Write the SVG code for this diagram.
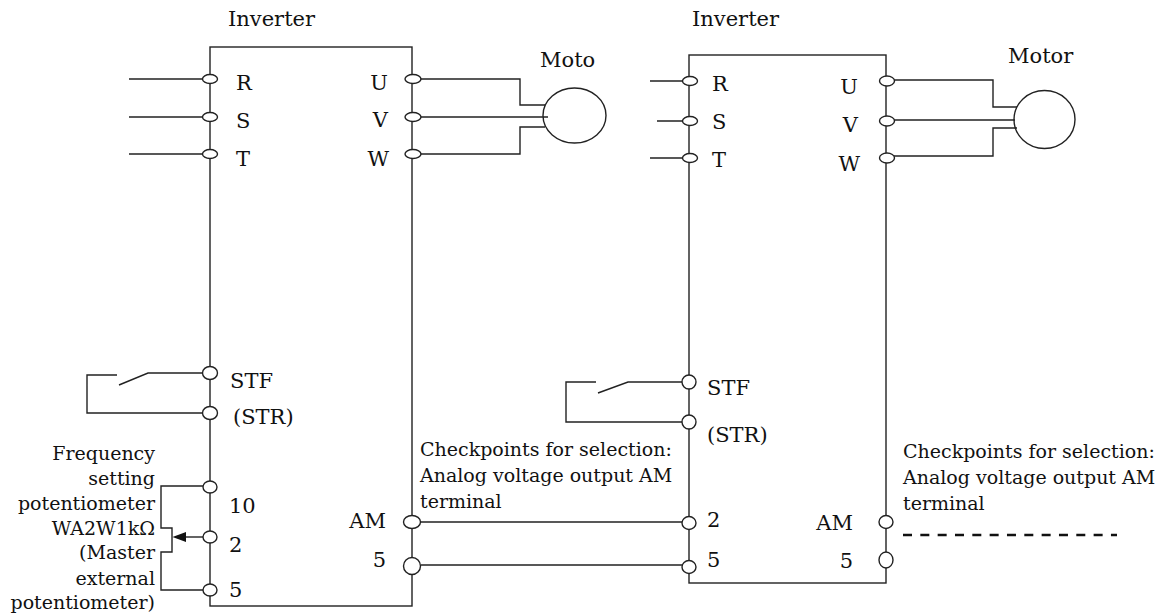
<svg xmlns="http://www.w3.org/2000/svg" width="1165" height="616" viewBox="0 0 1165 616">
<style>
.ln{fill:none;stroke:#222;stroke-width:1.4}
.tm{fill:#fff;stroke:#222;stroke-width:1.4}
.lb{font-family:"DejaVu Serif","Liberation Serif",serif;font-size:21px;fill:#111}
.an{font-family:"DejaVu Serif","Liberation Serif",serif;font-size:19px;fill:#111}
.e{text-anchor:end}
</style>
<rect width="1165" height="616" fill="#fff"/>
<g id="connectors">
<path class="ln" d="M129,79H203M129,117H203M129,154H203"/>
<path class="ln" d="M650,81H683M657,121H683M650,158H683"/>
<path class="ln" d="M420,79H520V105H545M420,117H548M420,154H520V127H545"/>
<path class="ln" d="M894,80H993V107H1017M894,120H1015M894,156H993V128H1017"/>
<path class="ln" d="M421,522H682M421,565H682"/>
<path d="M903,535H1117" fill="none" stroke="#111" stroke-width="2.6" stroke-dasharray="9 8.33"/>
</g>
<g id="inverter1">
<text class="lb" x="228" y="26">Inverter</text>
<rect class="ln" x="210" y="47" width="202" height="559"/>
<ellipse class="tm" cx="210" cy="79" rx="7.5" ry="4.5"/>
<ellipse class="tm" cx="210" cy="117" rx="7.5" ry="4.5"/>
<ellipse class="tm" cx="210" cy="154" rx="7.5" ry="4.5"/>
<ellipse class="tm" cx="210" cy="373" rx="7.5" ry="6.5"/>
<ellipse class="tm" cx="210" cy="413" rx="7.5" ry="6.5"/>
<ellipse class="tm" cx="210" cy="487" rx="7" ry="6"/>
<ellipse class="tm" cx="210" cy="537" rx="7" ry="6"/>
<ellipse class="tm" cx="210" cy="590" rx="7" ry="6"/>
<ellipse class="tm" cx="413" cy="79" rx="8" ry="4.5"/>
<ellipse class="tm" cx="413" cy="117" rx="8" ry="4.5"/>
<ellipse class="tm" cx="413" cy="154" rx="8" ry="4.5"/>
<ellipse class="tm" cx="412" cy="522" rx="8.5" ry="6.5"/>
<ellipse class="tm" cx="412" cy="566" rx="8.5" ry="8.5"/>
<text class="lb" x="236" y="90">R</text>
<text class="lb" x="236" y="128">S</text>
<text class="lb" x="236" y="166">T</text>
<text class="lb e" x="388" y="90">U</text>
<text class="lb e" x="388" y="127">V</text>
<text class="lb e" x="389" y="166">W</text>
<text class="lb" x="230" y="388">STF</text>
<text class="lb" x="233" y="424">(STR)</text>
<text class="lb" x="229" y="513">10</text>
<text class="lb" x="229" y="552">2</text>
<text class="lb" x="229" y="597">5</text>
<text class="lb e" x="386" y="528">AM</text>
<text class="lb e" x="386" y="567">5</text>
</g>
<g id="inverter2">
<text class="lb" x="692" y="26">Inverter</text>
<rect class="ln" x="689" y="55" width="197" height="528"/>
<ellipse class="tm" cx="690" cy="81" rx="7.5" ry="4.5"/>
<ellipse class="tm" cx="690" cy="121" rx="7.5" ry="4.5"/>
<ellipse class="tm" cx="690" cy="158" rx="7.5" ry="4.5"/>
<ellipse class="tm" cx="689" cy="382" rx="7" ry="7"/>
<ellipse class="tm" cx="689" cy="422" rx="7" ry="7"/>
<ellipse class="tm" cx="689" cy="523" rx="7" ry="6.5"/>
<ellipse class="tm" cx="689" cy="567" rx="7" ry="6.5"/>
<ellipse class="tm" cx="887" cy="81" rx="7.5" ry="5"/>
<ellipse class="tm" cx="887" cy="121" rx="7.5" ry="5"/>
<ellipse class="tm" cx="887" cy="158" rx="7.5" ry="5"/>
<ellipse class="tm" cx="886" cy="522" rx="7" ry="6.5"/>
<ellipse class="tm" cx="886" cy="560" rx="7" ry="8"/>
<text class="lb" x="712" y="91">R</text>
<text class="lb" x="712" y="129">S</text>
<text class="lb" x="712" y="167">T</text>
<text class="lb e" x="858" y="94">U</text>
<text class="lb e" x="858" y="132">V</text>
<text class="lb e" x="860" y="171">W</text>
<text class="lb" x="707" y="395">STF</text>
<text class="lb" x="707" y="442">(STR)</text>
<text class="lb" x="707" y="527">2</text>
<text class="lb" x="707" y="567">5</text>
<text class="lb e" x="853" y="530">AM</text>
<text class="lb e" x="853" y="568">5</text>
</g>
<g id="motor1">
<ellipse class="ln" cx="574.5" cy="115.5" rx="31.5" ry="27.5"/>
<text class="lb" x="540" y="67">Moto</text>
</g>
<g id="motor2">
<ellipse class="ln" cx="1044.5" cy="119.5" rx="30.5" ry="29"/>
<text class="lb" x="1008" y="63">Motor</text>
</g>
<g id="switch1">
<path class="ln" d="M203,373H148L119,385M117,375H87V413H203"/>
</g>
<g id="switch2">
<path class="ln" d="M682,382H628L598,393M596,382H566V422H682"/>
</g>
<g id="potentiometer">
<path class="ln" d="M203,486H161V528H172V552H161V590H203"/>
<path class="ln" d="M203,537H185"/>
<polygon points="172.5,537 186,532 186,542" fill="#111"/>
<text class="an e" x="155" y="460">Frequency</text>
<text class="an e" x="155" y="485">setting</text>
<text class="an e" x="155" y="510">potentiometer</text>
<text class="an e" x="155" y="535">WA2W1kΩ</text>
<text class="an e" x="155" y="559">(Master</text>
<text class="an e" x="155" y="585">external</text>
<text class="an e" x="155" y="609">potentiometer)</text>
</g>
<g id="note1">
<text class="an" x="420" y="456">Checkpoints for selection:</text>
<text class="an" x="420" y="482">Analog voltage output AM</text>
<text class="an" x="420" y="508">terminal</text>
</g>
<g id="note2">
<text class="an" x="903" y="458">Checkpoints for selection:</text>
<text class="an" x="903" y="484">Analog voltage output AM</text>
<text class="an" x="903" y="510">terminal</text>
</g>
</svg>
